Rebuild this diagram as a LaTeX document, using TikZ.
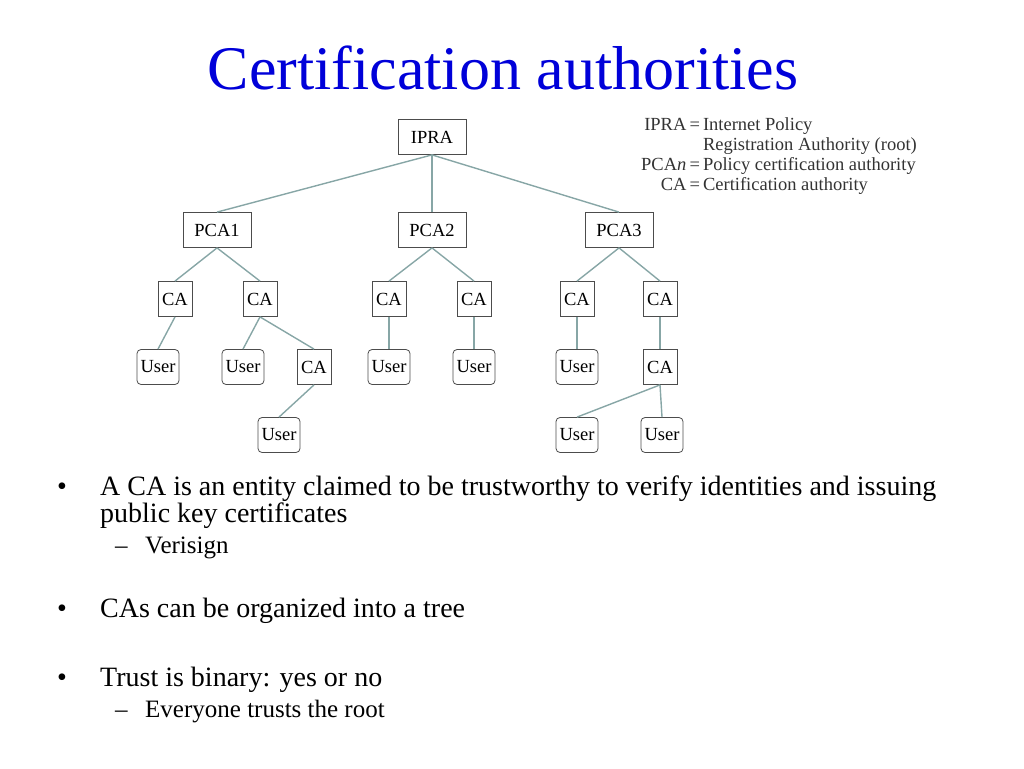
\documentclass[tikz,border=0pt]{standalone}
\usepackage{fontspec}
\setmainfont{Liberation Serif}
\begin{document}
\begin{tikzpicture}[x=1pt,y=-1pt,
  box/.style={draw=black!70,line width=0.8pt,minimum height=35pt,inner sep=1pt,font=\fontsize{18.5}{20}\selectfont},
  wbox/.style={box,minimum width=68pt},
  cbox/.style={box,minimum width=34pt},
  ubox/.style={box,rounded corners=4pt,minimum width=42pt},
  edge/.style={draw=teal!35!gray!70,line width=1.4pt}]
\useasboundingbox (0,0) rectangle (1024,768);
\node[font=\fontsize{62}{70}\selectfont,text=blue!85!black] (title) at (503,68) {Certification authorities};
\node[wbox] (ipra) at (432,137) {IPRA};
\node[wbox] (p1) at (217,230) {PCA1};
\node[wbox] (p2) at (432,230) {PCA2};
\node[wbox] (p3) at (619,230) {PCA3};
\node[cbox] (c1) at (175,299) {CA};
\node[cbox] (c2) at (260,299) {CA};
\node[cbox] (c3) at (389,299) {CA};
\node[cbox] (c4) at (474,299) {CA};
\node[cbox] (c5) at (577,299) {CA};
\node[cbox] (c6) at (660,299) {CA};
\node[ubox] (u1) at (158,367) {User};
\node[ubox] (u2) at (243,367) {User};
\node[cbox] (c7) at (314,367) {CA};
\node[ubox] (u3) at (389,367) {User};
\node[ubox] (u4) at (474,367) {User};
\node[ubox] (u5) at (577,367) {User};
\node[cbox] (c8) at (660,367) {CA};
\node[ubox] (u6) at (279,435) {User};
\node[ubox] (u7) at (577,435) {User};
\node[ubox] (u8) at (662,435) {User};
\foreach \a/\b in {ipra/p1,ipra/p2,ipra/p3,p1/c1,p1/c2,p2/c3,p2/c4,p3/c5,p3/c6,c1/u1,c2/u2,c2/c7,c3/u3,c4/u4,c5/u5,c6/c8,c7/u6,c8/u7,c8/u8}
  \draw[edge] (\a.south) -- (\b.north);
\node[anchor=north west,inner sep=0pt,font=\fontsize{18.5}{20}\selectfont,text=black!80] (legend) at (641,116)
 {\begin{tabular}{@{}r@{\,}l@{}}IPRA\,= & Internet Policy\\ & Registration Authority (root)\\ PCA\textit{n}\,= & Policy certification authority\\ CA\,= & Certification authority\end{tabular}};
\tikzset{bl/.style={anchor=base west,inner sep=0pt,font=\fontsize{28}{30}\selectfont},
  sl/.style={anchor=base west,inner sep=0pt,font=\fontsize{25}{27}\selectfont}}
\node[bl] (b1) at (57,495) {•};
\node[bl] (t1) at (100,495) {A CA is an entity claimed to be trustworthy to verify identities and issuing};
\node[bl] (t1b) at (100,522) {public key certificates};
\node[sl] (d1) at (115,553) {–};
\node[sl] (s1) at (145,553) {Verisign};
\node[bl] (b2) at (57,617) {•};
\node[bl] (t2) at (100,617) {CAs can be organized into a tree};
\node[bl] (b3) at (57,686) {•};
\node[bl] (t3) at (100,686) {Trust is binary: yes or no};
\node[sl] (d3) at (115,717) {–};
\node[sl] (s3) at (145,717) {Everyone trusts the root};
\end{tikzpicture}
\end{document}
